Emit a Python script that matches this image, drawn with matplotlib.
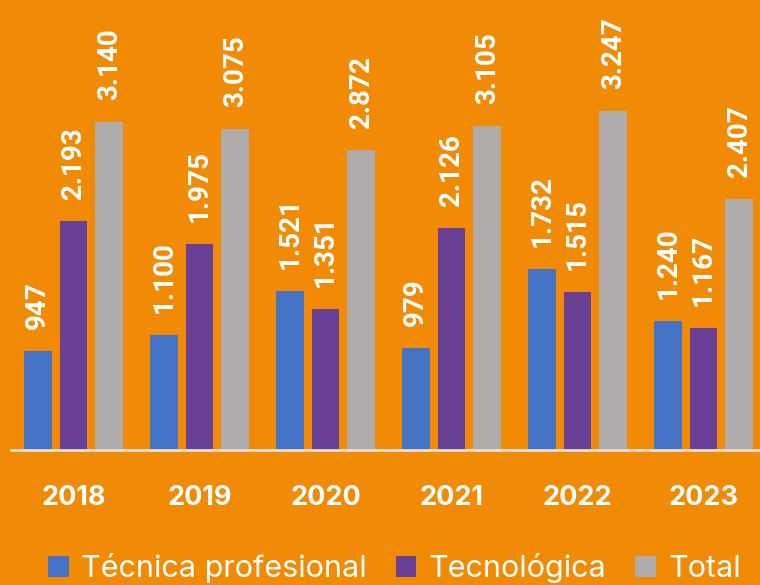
import matplotlib.pyplot as plt
import numpy as np
from matplotlib.patches import Patch

YEARS = ["2018", "2019", "2020", "2021", "2022", "2023"]
TECNICA = [947, 1100, 1521, 979, 1732, 1240]
TECNOLOGICA = [2193, 1975, 1351, 2126, 1515, 1167]
TOTAL = [3140, 3075, 2872, 3105, 3247, 2407]

SERIES = [
    ("Técnica profesional", TECNICA, "#4472C4"),
    ("Tecnológica", TECNOLOGICA, "#6A3F96"),
    ("Total", TOTAL, "#AFACAB"),
]

BG = "#F18A04"


def fmt(v):
    return f"{v:,}".replace(",", ".")


fig = plt.figure(figsize=(7.6, 5.85), dpi=100)
fig.patch.set_facecolor(BG)
ax = fig.add_axes([10.5 / 760, 135 / 585, 756 / 760, 450 / 585])
ax.set_facecolor(BG)

x = np.arange(len(YEARS))
width = 0.222
step = 0.284

for i, (name, values, color) in enumerate(SERIES):
    offset = (i - 1) * step
    bars = ax.bar(x + offset, values, width=width, color=color, label=name, zorder=2)
    for rect, v in zip(bars, values):
        ax.annotate(fmt(v), (rect.get_x() + rect.get_width() / 2, rect.get_height()),
                    xytext=(0, 22), textcoords="offset pixels", rotation=90,
                    ha="center", va="bottom", color="white", fontsize=20,
                    fontweight="bold", family="Roboto")

ax.set_xlim(-0.5, 5.5)
ax.set_ylim(0, 4314)
for side in ["top", "right", "left"]:
    ax.spines[side].set_visible(False)
ax.spines["bottom"].set_color("#E6E0D8")
ax.spines["bottom"].set_linewidth(2)
ax.set_yticks([])
ax.set_xticks(x)
ax.set_xticklabels(YEARS, color="white", fontsize=19.5, fontweight="bold", family="Inter")
ax.tick_params(axis="x", length=0, pad=25.5)

handles = [Patch(facecolor=c, edgecolor="none") for _, _, c in SERIES]
labels = [n for n, _, _ in SERIES]
leg = fig.legend(handles, labels, loc="center", bbox_to_anchor=(394.5 / 760, 17 / 585), ncol=3,
                 frameon=False, handlelength=0.68, handleheight=0.68, handletextpad=0.4,
                 columnspacing=0.95, borderpad=0.2, prop={"family": "Inter", "size": 22})
for t in leg.get_texts():
    t.set_color("white")

fig.savefig("out.png", dpi=100, facecolor=BG)
